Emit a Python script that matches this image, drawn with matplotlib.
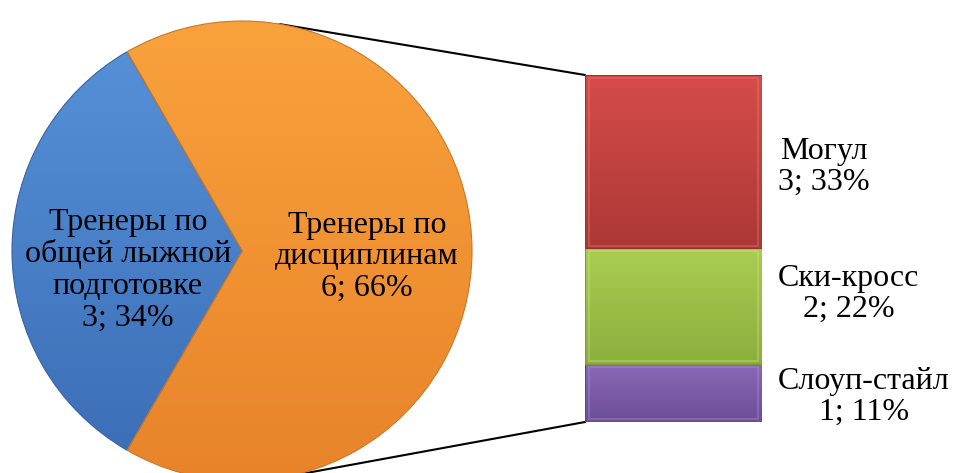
import matplotlib
matplotlib.use('Agg')
import matplotlib.pyplot as plt
import numpy as np
from matplotlib.patches import ConnectionPatch, Rectangle
from matplotlib.colors import LinearSegmentedColormap

plt.rcParams['font.family'] = ['Liberation Serif', 'DejaVu Serif']

# data
pie_labels = ['Тренеры по\nобщей лыжной\nподготовке', 'Тренеры по\nдисциплинам']
pie_counts = [3, 6]
pie_pct = [34, 66]

bar_labels = ['Слоуп-стайл', 'Ски-кросс', 'Могул']
bar_counts = [1, 2, 3]
bar_pct = [11, 22, 33]

# styles (top, bottom gradient colours)
pie_colors = [('#5793da', '#3a6cb4'), ('#f9a23c', '#e8832a')]
pie_edges = ['#3a64a0', '#c8782a']
bar_colors = [('#8a68b8', '#6c4e96'), ('#aacd52', '#8cae3e'), ('#d64c4a', '#ac3836')]
bar_edges = ['#5e4282', '#7e9a36', '#983230']
bar_hilite = ['#b89ae0', '#d4ee8a', '#ec8a84']
FS = 23


def gradient_fill(ax, patch, top, bottom, extent):
    cmap = LinearSegmentedColormap.from_list('g', [bottom, top])
    grad = np.linspace(0, 1, 256).reshape(-1, 1)
    im = ax.imshow(grad, cmap=cmap, origin='lower', extent=extent,
                   aspect='auto', zorder=1, interpolation='bilinear')
    im.set_clip_path(patch)


W, H = 954, 473
fig = plt.figure(figsize=(W / 100, H / 100), dpi=100)

# pie axes: center (242, 251) px, radius 230 px
cx, cy, r = 242, 251, 230
ax_pie = fig.add_axes([(cx - r) / W, (H - cy - r) / H, 2 * r / W, 2 * r / H])
wedges, _ = ax_pie.pie(pie_counts, startangle=120, counterclock=True,
                       radius=1, wedgeprops=dict(linewidth=0.8))
for w, (top, bot), ec in zip(wedges, pie_colors, pie_edges):
    w.set_facecolor('none')
    w.set_edgecolor(ec)
    w.set_zorder(2)
    gradient_fill(ax_pie, w, top, bot, (-1, 1, -1, 1))
ax_pie.set_xlim(-1, 1)
ax_pie.set_ylim(-1, 1)
ax_pie.axis('off')

pie_text_pos = [(-0.496, -0.083), (0.543, -0.026)]
for lab, n, p, (tx, ty) in zip(pie_labels, pie_counts, pie_pct, pie_text_pos):
    ax_pie.text(tx, ty, '%s\n%d; %d%%' % (lab, n, p), ha='center', va='center',
                fontsize=FS, linespacing=1.12, zorder=5)

# bar axes: x 585..762, y 75..422 px
bl, br, bt, bb = 585, 762, 75, 422
ax_bar = fig.add_axes([bl / W, (H - bb) / H, (br - bl) / W, (bb - bt) / H])
bottoms = np.concatenate([[0], np.cumsum(bar_counts)[:-1]])
total = sum(bar_counts)
rects = ax_bar.bar([0.5] * len(bar_counts), bar_counts, width=1, bottom=bottoms,
                   linewidth=0.8)
for rc, (top, bot), ec, hl, b, n in zip(rects, bar_colors, bar_edges, bar_hilite,
                                        bottoms, bar_counts):
    rc.set_facecolor('none')
    rc.set_edgecolor(ec)
    rc.set_zorder(3)
    gradient_fill(ax_bar, rc, top, bot, (0, 1, b, b + n))
    # soft bevel highlight inside each segment
    inner = Rectangle((0.025, b + 0.05), 0.95, n - 0.1, facecolor='none',
                      edgecolor=hl, linewidth=1.5, alpha=0.3, zorder=2)
    ax_bar.add_patch(inner)
ax_bar.set_xlim(0, 1)
ax_bar.set_ylim(0, total)
ax_bar.axis('off')

label_offsets = [-0.07, 0.21, -0.09]
for lab, n, p, b, off in zip(bar_labels, bar_counts, bar_pct, bottoms, label_offsets):
    ax_bar.text(1.09, b + n / 2 + off, '%s\n%d; %d%%' % (lab, n, p),
                transform=ax_bar.get_yaxis_transform(), ha='left', va='center',
                multialignment='center', fontsize=FS, linespacing=1.07,
                clip_on=False)

# connector lines from pie edge to bar corners
ang = np.deg2rad(80.5)
for sgn, yb in [(1, total), (-1, 0)]:
    con = ConnectionPatch(xyA=(np.cos(ang), sgn * np.sin(ang)), coordsA=ax_pie.transData,
                          xyB=(0, yb), coordsB=ax_bar.transData,
                          color='black', linewidth=1.5, zorder=0)
    fig.add_artist(con)

fig.savefig('out.png', dpi=100)
